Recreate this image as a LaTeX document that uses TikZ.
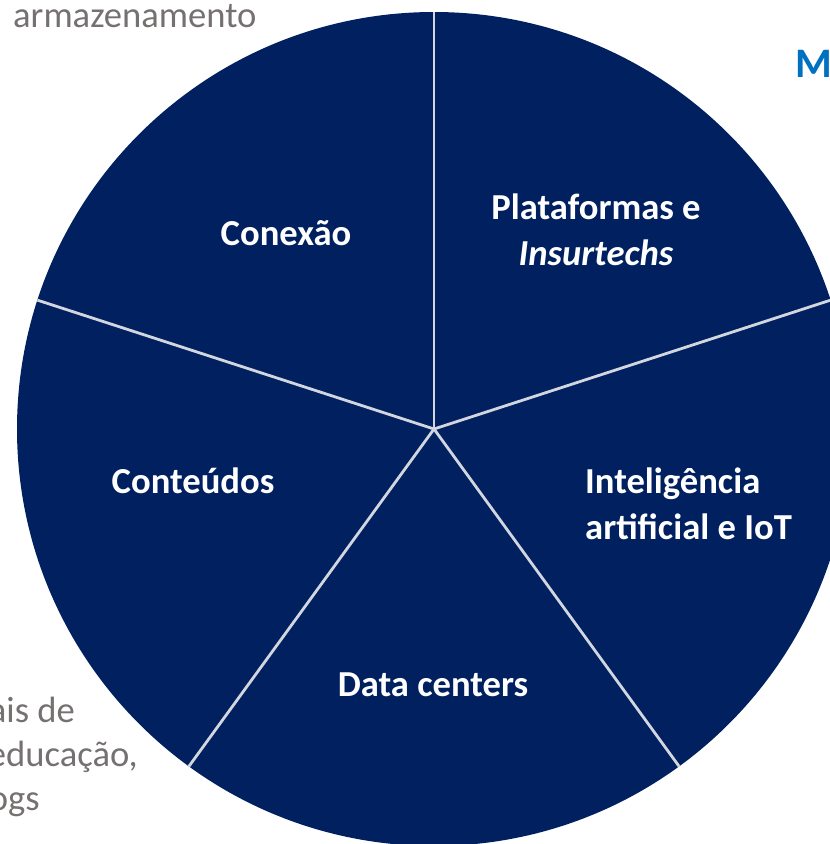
\documentclass[tikz,border=0pt]{standalone}
\usepackage{fontspec}
\usetikzlibrary{calc}
\setmainfont{Carlito}
\definecolor{navy}{HTML}{002060}
\definecolor{sep}{RGB}{210,214,222}
\definecolor{graytxt}{RGB}{118,113,113}
\definecolor{blueM}{RGB}{0,112,192}
\begin{document}
\begin{tikzpicture}[x=1pt,y=-1pt,
  lbl/.style={text=white,font=\bfseries\fontsize{36.6}{46}\selectfont,inner sep=0pt},
  side/.style={text=graytxt,font=\fontsize{36.6}{45}\selectfont,inner sep=0pt},
  sepline/.style={sep,line width=2.8pt}]
\useasboundingbox (0,0) rectangle (830,844);
\clip (0,0) rectangle (830,844);
\coordinate (c) at (434,429);
\fill[navy] (c) circle[radius=417];
\foreach \a in {90,162,234,306,18}{
  \coordinate (e\a) at ($(c)+(-\a:417)$);
}
\foreach \a in {90,162,234,306,18}{
  \draw[sepline] (c) -- (e\a);
}
% labels
\node[lbl,anchor=base] (conexao) at (286,245) {Conexão};
\node[lbl,anchor=base,align=center] (plat) at (596,265) {Plataformas e\\\textit{Insurtechs}};
\node[lbl,anchor=base] (conteudos) at (193,493) {Conteúdos};
\node[lbl,anchor=base west,align=left] (ia) at (585,539) {Inteligência\\artificial e IoT};
\node[lbl,anchor=base] (dc) at (433,696) {Data centers};
% side texts
\node[side,anchor=base west] (arm) at (13,27) {armazenamento};
\node[text=blueM,font=\bfseries\fontsize{42}{50}\selectfont,inner sep=0pt,anchor=base west] (m) at (795,77) {M};
\node[side,anchor=base east] (t1) at (75,722) {ais de};
\node[side,anchor=base east] (t2) at (138,766) {educação,};
\node[side,anchor=base east] (t3) at (40,810) {ogs};
\end{tikzpicture}
\end{document}
